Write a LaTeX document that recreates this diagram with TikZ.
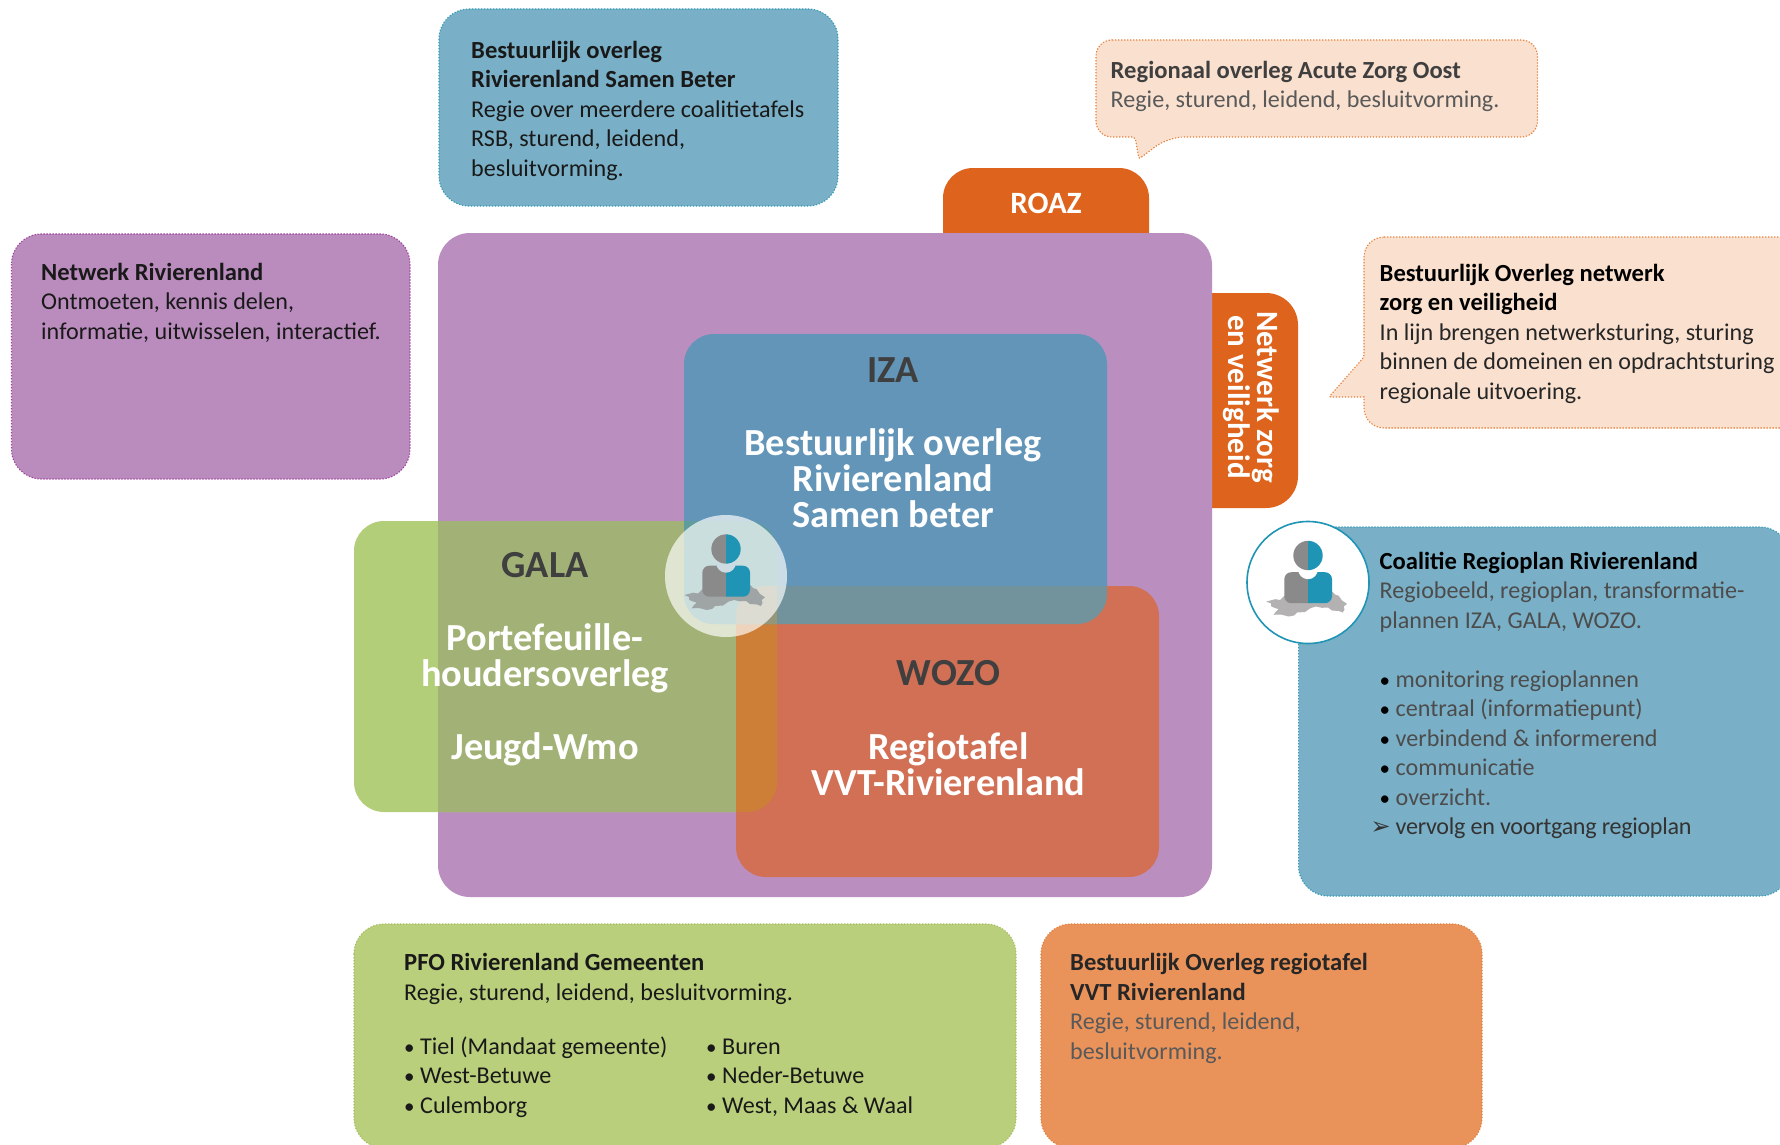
\documentclass[tikz,border=0pt]{standalone}
\usepackage{fontspec}
\setmainfont{Carlito}
\newfontfamily\dejavu{DejaVu Sans}
\definecolor{cPurple}{HTML}{BA8EBF}
\definecolor{cPurpleBox}{HTML}{BA8CBE}
\definecolor{cPurpleEdge}{HTML}{A03E9E}
\definecolor{cGreen}{HTML}{B3CE78}
\definecolor{cGreenPurple}{HTML}{A2B276}
\definecolor{cIza}{HTML}{6295B8}
\definecolor{cWozo}{HTML}{D27055}
\definecolor{cGreenWozo}{HTML}{CE7F37}
\definecolor{cIzaWozo}{HTML}{72929C}
\definecolor{cIzaGreen}{HTML}{5F9C9C}
\definecolor{cTriple}{HTML}{96967A}
\definecolor{cBlueBox}{HTML}{7AB0C7}
\definecolor{cBlueEdge}{HTML}{2E9BB5}
\definecolor{cPeach}{HTML}{F9E0CF}
\definecolor{cPeachEdge}{HTML}{E8813A}
\definecolor{cGreenBox}{HTML}{B9CF7C}
\definecolor{cGreenEdge}{HTML}{A3BE5E}
\definecolor{cOrangeBox}{HTML}{E9935B}
\definecolor{cOrangeEdge}{HTML}{E07F3E}
\definecolor{cTab}{HTML}{DE631D}
\definecolor{cTeal}{HTML}{2094B5}
\definecolor{cMan}{HTML}{8A8A8A}
\definecolor{cMapA}{HTML}{9FA4A5}
\definecolor{cMapB}{HTML}{B3B1B2}
\definecolor{cNotchA}{HTML}{CCDCE2}
\definecolor{cDark}{HTML}{3F3F3F}
\definecolor{cMid}{HTML}{595959}
\newcommand{\rPurple}{(438,233) rectangle (1212,897)}
\newcommand{\rGala}{(354,521) rectangle (777,812)}
\newcommand{\rIza}{(684,334) rectangle (1107,624)}
\newcommand{\rWozo}{(736,586) rectangle (1159,877)}
\newcommand{\bul}{\makebox[16pt][l]{\fontsize{21}{29.5}\selectfont •}}
\newcommand{\bt}[1]{{\fontsize{24.6}{29.5}\selectfont\bfseries #1}}
\newcommand{\tightlines}{\setlength{\lineskiplimit}{-100pt}}
\newcommand{\bigfont}{\bfseries\fontsize{38.3}{36.4}\selectfont}
\newcommand{\manhalf}[3]{%
  \begin{scope}
    \clip #1;
    \fill[#2,rounded corners=7pt] (-23.7,-10.3) rectangle (24,20.7);
    \fill[#3] (0,-13.2) circle[radius=9.9];
    \fill[#2] (0,-27) circle[radius=14.7];
  \end{scope}}
\newcommand{\personicon}[4]{%
  \begin{scope}[shift={(#1,#2)}]
    \fill[#3] (-41.7,19) -- (-32.7,16.7) -- (-28,17.5) -- (-23.7,13.3) -- (0,10) -- (24,9) -- (27,12) -- (30.7,13.3) -- (34,18) -- (39,21.3) -- (35.7,24) -- (36.5,27) -- (34.7,30) -- (31,28.5) -- (24,28) -- (20,25) -- (14,25.3) -- (8,24) -- (2.3,25.7) -- (-3,29.5) -- (-11,30) -- (-14,33) -- (-19.3,34) -- (-27,32) -- (-34.3,32.3) -- (-32,29) -- (-29.3,26.7) -- (-33,25.5) -- (-36.7,24) -- (-37,21) -- cycle;
    \manhalf{(-30,-50) rectangle (0,30)}{cMan}{#4}
    \manhalf{(0,-50) rectangle (30,30)}{cTeal}{#4}
  \end{scope}}
\tikzset{
  x=1pt,y=-1pt,
  dotedge/.style={line width=1.1pt,dash pattern=on 1.3pt off 1.7pt},
  blk/.style={anchor=north west,inner sep=0pt,align=left,font=\fontsize{24.1}{29.5}\selectfont},
  big/.style={anchor=north,inner sep=0pt,align=center,font=\bigfont},
  bigw/.style={big,text=white},
  bigd/.style={big,text=cDark}
}
\tightlines
\begin{document}
\begin{tikzpicture}[x=1pt,y=-1pt]
\tightlines
\clip (0,0) rectangle (1780,1145);
\fill[white] (0,0) rectangle (1780,1145);

% orange tabs
\fill[cTab,rounded corners=30pt] (943,168) rectangle (1149,290);
\fill[cTab,rounded corners=32pt] (1150,293) rectangle (1298,508);
\node[inner sep=0pt,text=white,font=\bfseries\fontsize{31}{36}\selectfont] (roaz) at (1046,203) {ROAZ};
\node[inner sep=0pt,text=white,align=center,rotate=-90,font=\bfseries\fontsize{31}{29}\selectfont] (tabzorg) at (1251,397) {Netwerk zorg\\en veiligheid};

% main venn
\fill[cPurple,rounded corners=32pt] \rPurple;
\fill[cGreen,rounded corners=30pt] \rGala;
\begin{scope}
  \clip[rounded corners=30pt] \rGala;
  \fill[cGreenPurple,rounded corners=32pt] \rPurple;
\end{scope}
\fill[cIza,rounded corners=30pt] \rIza;
\fill[cWozo,rounded corners=30pt] \rWozo;
\begin{scope}
  \clip[rounded corners=30pt] \rGala;
  \fill[cGreenWozo,rounded corners=30pt] \rWozo;
\end{scope}
\begin{scope}
  \clip[rounded corners=30pt] \rIza;
  \fill[cIzaWozo,rounded corners=30pt] \rWozo;
\end{scope}
\begin{scope}
  \clip[rounded corners=30pt] \rIza;
  \fill[cIzaGreen,rounded corners=30pt] \rGala;
  \clip[rounded corners=30pt] \rGala;
  \fill[cTriple,rounded corners=30pt] \rWozo;
\end{scope}

\node[bigd] (izat) at (893,357) {\strut IZA};
\node[bigw] (izab) at (893,428) {\strut Bestuurlijk overleg\\Rivierenland\\Samen beter};
\node[bigd] (galat) at (545,552) {\strut GALA};
\node[bigw] (galab) at (545,623) {\strut Portefeuille-\\houdersoverleg\\\strut\\Jeugd-Wmo};
\node[bigd] (wozot) at (948.5,660) {\strut WOZO};
\node[bigw] (wozob) at (948.5,732.5) {\strut Regiotafel\\VVT-Rivierenland};

% circle in the venn
\fill[white,opacity=.67] (726,576) circle[radius=61];
\personicon{726}{576}{cMapA}{cNotchA}

% callouts
\filldraw[fill=cBlueBox,draw=cBlueEdge,dotedge,rounded corners=30pt] (439,9) rectangle (838,206);
\node[blk,text=black!90] (rsb) at (471,37.6) {\strut\bt{Bestuurlijk overleg}\\\bt{Rivierenland Samen Beter}\\Regie over meerdere coalitietafels\\RSB, sturend, leidend,\\besluitvorming.};

\filldraw[fill=cPurpleBox,draw=cPurpleEdge,dotedge,rounded corners=30pt] (11.5,234) rectangle (410,479);
\node[blk,text=black!90] (net) at (41,259.4) {\strut\bt{Netwerk Rivierenland}\\Ontmoeten, kennis delen,\\informatie, uitwisselen, interactief.};

\filldraw[fill=cPeach,draw=cPeachEdge,dotedge,rounded corners=16pt]
  (1096,40) -- (1537.5,40) -- (1537.5,137) -- (1168,137) [rounded corners=2pt] -- (1139,159) -- (1135,137) [rounded corners=16pt] -- (1096,137) -- cycle;
\node[blk,text=cMid] (roazt) at (1110.5,57.4) {\strut\textcolor{cDark}{\bt{Regionaal overleg Acute Zorg Oost}}\\Regie, sturend, leidend, besluitvorming.};

\filldraw[fill=cPeach,draw=cPeachEdge,dotedge,rounded corners=20pt]
  (1364,237) -- (1810,237) -- (1810,428) -- (1364,428) [rounded corners=0pt] -- (1364,397) [rounded corners=2pt] -- (1329,397) -- (1364,357) [rounded corners=20pt] -- cycle;
\node[blk,text=black!85] (zorg) at (1379.5,260.4) {\strut\textcolor{black}{\bt{Bestuurlijk Overleg netwerk}}\\\textcolor{black}{\bt{zorg en veiligheid}}\\In lijn brengen netwerksturing, sturing\\binnen de domeinen en opdrachtsturing\\regionale uitvoering.};

\filldraw[fill=cBlueBox,draw=cBlueEdge,dotedge,rounded corners=30pt] (1298.6,527) rectangle (1790,896);
\node[blk,text=black!70] (coal) at (1379.5,548.4) {\strut\textcolor{black}{\bt{Coalitie Regioplan Rivierenland}}\\Regiobeeld, regioplan, transformatie-\\plannen IZA, GALA, WOZO.\\\strut\\\textcolor{black}{\bul}monitoring regioplannen\\\textcolor{black}{\bul}centraal (informatiepunt)\\\textcolor{black}{\bul}verbindend \& informerend\\\textcolor{black}{\bul}communicatie\\\textcolor{black}{\bul}overzicht.\\\textcolor{black!80}{\makebox[16pt][r]{\dejavu\fontsize{24}{29.5}\selectfont ➢\hspace{5pt}}\addfontfeature{LetterSpace=-1.25}vervolg en voortgang regioplan}};
\filldraw[fill=white,draw=cTeal,line width=1.6pt] (1308,582.5) circle[radius=61];
\personicon{1308}{582.5}{cMapB}{white}

\filldraw[fill=cGreenBox,draw=cGreenEdge,dotedge,rounded corners=30pt] (354,924) rectangle (1016,1148);
\node[blk,text=black!90] (pfo) at (404,950) {\strut\bt{PFO Rivierenland Gemeenten}\\Regie, sturend, leidend, besluitvorming.};
\node[blk,text=black!90] (pfol) at (404,1033.4) {\strut\bul Tiel (Mandaat gemeente)\\\bul West-Betuwe\\\bul Culemborg};
\node[blk,text=black!90] (pfor) at (706,1033.4) {\strut\bul Buren\\\bul Neder-Betuwe\\\bul West, Maas \& Waal};

\filldraw[fill=cOrangeBox,draw=cOrangeEdge,dotedge,rounded corners=30pt] (1041,924) rectangle (1482,1148);
\node[blk,text=cMid] (vvt) at (1070,950) {\strut\textcolor{black!85}{\bt{Bestuurlijk Overleg regiotafel}}\\\textcolor{black!85}{\bt{VVT Rivierenland}}\\Regie, sturend, leidend,\\besluitvorming.};
\end{tikzpicture}
\end{document}
